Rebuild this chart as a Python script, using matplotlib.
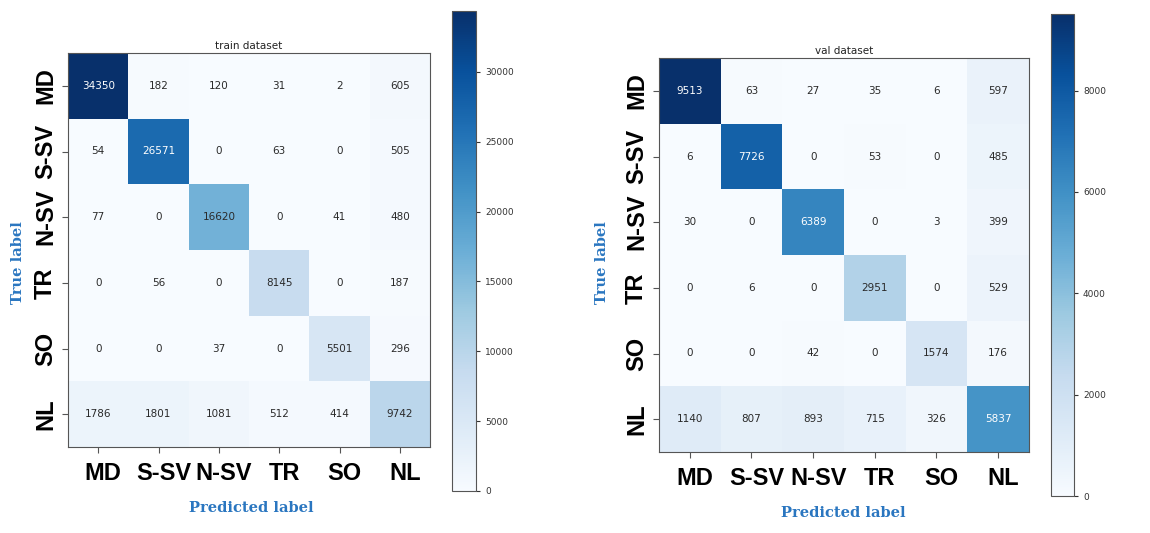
import matplotlib
matplotlib.use('Agg')
import matplotlib.pyplot as plt
import matplotlib.transforms as mtransforms
import numpy as np

# 类别
classes = ['MD', 'S-SV', 'N-SV', 'TR', 'SO', 'NL']

# 训练集混淆矩阵
train_cm = [
    [34350, 182, 120, 31, 2, 605],
    [54, 26571, 0, 63, 0, 505],
    [77, 0, 16620, 0, 41, 480],
    [0, 56, 0, 8145, 0, 187],
    [0, 0, 37, 0, 5501, 296],
    [1786, 1801, 1081, 512, 414, 9742],
]

# 验证集混淆矩阵
val_cm = [
    [9513, 63, 27, 35, 6, 597],
    [6, 7726, 0, 53, 0, 485],
    [30, 0, 6389, 0, 3, 399],
    [0, 6, 0, 2951, 0, 529],
    [0, 0, 42, 0, 1574, 176],
    [1140, 807, 893, 715, 326, 5837],
]

train_ticks = [0, 5000, 10000, 15000, 20000, 25000, 30000]
val_ticks = [0, 2000, 4000, 6000, 8000]

label_color = '#2a76c0'
W, H = 1150, 533


def box(x0, y0, x1, y1):
    # 像素坐标 -> figure坐标
    return [x0 / W, 1 - y1 / H, (x1 - x0) / W, (y1 - y0) / H]


def draw_cm(fig, cm, title, ax_box, cb_box, cb_ticks, ylab_xy, xlab_xy):
    cm = np.array(cm)
    ax = fig.add_axes(box(*ax_box))
    cax = fig.add_axes(box(*cb_box))
    im = ax.imshow(cm, cmap='Blues', aspect='auto', interpolation='nearest')
    ax.set_title(title, fontsize=7.5, pad=3, color='#222222')
    thresh = cm.max() / 2.0
    for i in range(cm.shape[0]):
        for j in range(cm.shape[1]):
            ax.text(j, i, str(cm[i, j]), ha='center', va='center', fontsize=7.5,
                    color='white' if cm[i, j] > thresh else '#2a2a2a')
    ax.set_xticks(range(len(classes)))
    ax.set_yticks(range(len(classes)))
    ax.set_xticklabels(classes, fontsize=17, fontweight='bold', family='Liberation Sans')
    ax.set_yticklabels(classes, fontsize=17, fontweight='bold', family='Liberation Sans',
                       rotation=90, va='center')
    ax.tick_params(axis='x', pad=7, length=4, color='#555555')
    ax.tick_params(axis='y', pad=4, length=4, color='#555555')
    # x刻度标签稍微右移
    shift = mtransforms.ScaledTranslation(5 / 100, 0, fig.dpi_scale_trans)
    for lab in ax.get_xticklabels():
        lab.set_transform(lab.get_transform() + shift)
    for s in ax.spines.values():
        s.set_color('#555555')
    cb = fig.colorbar(im, cax=cax, ticks=cb_ticks)
    cb.ax.tick_params(labelsize=6.5, length=3, colors='#333333')
    cb.outline.set_edgecolor('#555555')
    fig.text(ylab_xy[0] / W, 1 - ylab_xy[1] / H, 'True label', rotation=90,
             ha='center', va='center', fontsize=10.5, fontweight='bold',
             family='DejaVu Serif', color=label_color)
    fig.text(xlab_xy[0] / W, 1 - xlab_xy[1] / H, 'Predicted label',
             ha='center', va='center', fontsize=10.5, fontweight='bold',
             family='DejaVu Serif', color=label_color)


fig = plt.figure(figsize=(11.5, 5.33), dpi=100)
draw_cm(fig, train_cm, 'train dataset', (68, 53, 430, 447), (452, 11, 476, 491),
        train_ticks, (18, 263), (251, 508))
draw_cm(fig, val_cm, 'val dataset', (659, 58, 1029, 452), (1051, 14, 1074, 496),
        val_ticks, (602, 263), (843, 513))
fig.savefig('out.png', dpi=100)
